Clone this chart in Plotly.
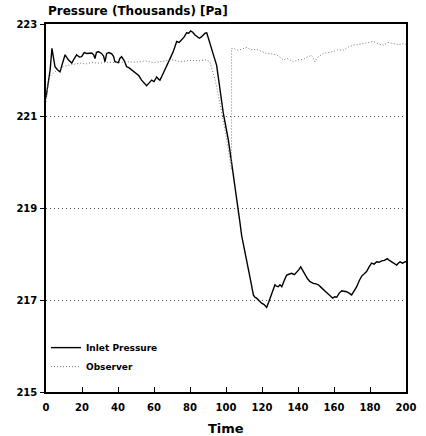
import plotly.graph_objects as go

# Inlet pressure (solid) - time and value (thousands of Pa)
inlet_t = [0, 0.5, 1.3, 2.3, 3.3, 4.2, 5, 6.5, 7.8, 9.2, 10.6, 12.4, 14.3, 15.7, 17, 18.5, 19.8,
           21.2, 22.6, 25.4, 26.5, 27.2, 28, 29, 30.9, 32, 32.8, 33.7, 35, 36.5, 37.5, 38.3, 40.2,
           41, 42, 43.5, 44.8, 46, 47.6, 49, 50.4, 51.5, 53.1, 54.5, 55.9, 57.3, 58.7, 60, 61.5,
           62.5, 63.3, 64.3, 65.2, 66.5, 67.9, 69.3, 70.7, 71.7, 72.6, 74, 75.4, 76.8, 78.1, 79.3,
           80.4, 81.5, 82.8, 84, 85.2, 86.3, 87.4, 88.4, 89.3, 90.5, 92, 93.5, 94.8, 95.7, 97,
           98.5, 100, 101.3, 102.7, 104, 105.5, 106.8, 107.8, 108.7, 109.6, 111, 112.4, 113.8,
           115.2, 116, 117, 118.4, 119.8, 121.2, 122.6, 123.7, 124.8, 126, 127.2, 128, 129, 130,
           131, 132.3, 133.7, 135, 136.5, 138, 139.3, 140.5, 141.5, 142.7, 143.9, 145.3, 146.7,
           148.5, 150, 151.3, 152.7, 154, 155.4, 156.8, 158, 159.3, 160.4, 161.5, 162.9, 164.3,
           165.6, 167, 168.4, 169.8, 171.2, 172.6, 174, 175.4, 176.8, 178.1, 179.5, 180.9, 182.3,
           183.7, 185, 186.5, 188, 189.6, 190.8, 192, 193.4, 194.8, 195.7, 196.7, 198, 199.4, 200]
inlet_v = [221.4, 221.55, 221.7, 222.0, 222.47, 222.2, 222.07, 222.0, 221.96, 222.15, 222.33,
           222.22, 222.15, 222.25, 222.33, 222.28, 222.29, 222.38, 222.36, 222.37, 222.33, 222.25,
           222.38, 222.4, 222.36, 222.3, 222.18, 222.36, 222.38, 222.35, 222.3, 222.18, 222.16,
           222.25, 222.29, 222.2, 222.07, 222.05, 222.0, 221.97, 221.93, 221.88, 221.78, 221.72,
           221.66, 221.72, 221.78, 221.75, 221.85, 221.8, 221.78, 221.86, 221.93, 222.05, 222.15,
           222.28, 222.4, 222.52, 222.62, 222.6, 222.65, 222.72, 222.81, 222.8, 222.85, 222.82,
           222.76, 222.72, 222.69, 222.72, 222.76, 222.8, 222.81, 222.65, 222.45, 222.3, 222.1,
           221.85, 221.45, 221.06, 220.75, 220.48, 220.1, 219.75, 219.4, 219.03, 218.67, 218.4,
           218.23, 217.97, 217.72, 217.4, 217.11, 217.06, 217.04, 216.98, 216.93, 216.9, 216.84,
           216.95, 217.07, 217.2, 217.33, 217.3, 217.29, 217.33, 217.29, 217.42, 217.54, 217.56,
           217.58, 217.55, 217.6, 217.66, 217.72, 217.63, 217.54, 217.46, 217.4, 217.36, 217.35,
           217.33, 217.28, 217.22, 217.18, 217.13, 217.08, 217.04, 217.07, 217.06, 217.15, 217.2,
           217.19, 217.18, 217.15, 217.11, 217.2, 217.29, 217.42, 217.52, 217.57, 217.62, 217.72,
           217.8, 217.78, 217.83, 217.82, 217.85, 217.86, 217.9, 217.86, 217.83, 217.78, 217.76,
           217.8, 217.83, 217.8, 217.83, 217.84]

# Observer (dotted)
obs_t = [0, 0.5, 1.2, 2.2, 3.5, 5, 7, 9.6, 12, 15, 19, 22, 25, 30, 35, 40, 45, 50, 55, 60, 65,
         70, 75, 80, 85, 89, 91, 92.5, 94, 95.3, 96.7, 98.5, 100.4, 102.2, 103.1, 103.1, 104,
         106.8, 109, 111.5, 114, 117, 120, 122.6, 125, 128.2, 130, 131.8, 134, 137.4, 140, 143,
         145, 147.6, 149.4, 151, 154, 157, 159.6, 162, 165.2, 168, 170.7, 173, 176.3, 179, 181.9,
         184.5, 187.4, 190, 193, 196, 198.5, 200]
obs_v = [221.3, 221.5, 221.7, 221.85, 221.92, 221.96, 222.02, 222.07, 222.1, 222.12, 222.15,
         222.13, 222.16, 222.15, 222.17, 222.16, 222.18, 222.17, 222.2, 222.16, 222.19, 222.22,
         222.18, 222.21, 222.2, 222.22, 222.18, 222.0, 221.78, 221.55, 221.28, 220.9, 220.48,
         220.04, 219.83, 222.47, 222.47, 222.43, 222.46, 222.49, 222.44, 222.45, 222.4, 222.36,
         222.35, 222.33, 222.28, 222.22, 222.25, 222.18, 222.22, 222.23, 222.28, 222.32, 222.18,
         222.28, 222.36, 222.38, 222.4, 222.44, 222.43, 222.5, 222.54, 222.55, 222.58, 222.6,
         222.62, 222.57, 222.54, 222.6, 222.58, 222.55, 222.57, 222.56]

x_ticks = [0, 20, 40, 60, 80, 100, 120, 140, 160, 180, 200]
y_ticks = [215, 217, 219, 221, 223]

FONT = "DejaVu Sans"

fig = go.Figure()
fig.add_trace(go.Scatter(x=inlet_t, y=inlet_v, mode="lines", name="Inlet Pressure",
                         line=dict(color="black", width=1.4)))
fig.add_trace(go.Scatter(x=obs_t, y=obs_v, mode="lines", name="Observer",
                         line=dict(color="#777777", width=1, dash="1px,2px")))

fig.update_layout(
    width=426, height=436,
    margin=dict(l=46, r=20, t=24, b=44),
    paper_bgcolor="white", plot_bgcolor="white",
    font=dict(family=FONT, color="black", size=10, weight="bold"),
    showlegend=True,
    legend=dict(x=0.0, y=0.16, xanchor="left", yanchor="top", bgcolor="rgba(0,0,0,0)",
                font=dict(size=9, family=FONT, weight="bold"), itemwidth=30,
                tracegroupgap=4),
    xaxis=dict(range=[0, 200], tickvals=x_ticks, ticktext=[str(v) for v in x_ticks],
               ticks="inside", ticklen=5, tickcolor="black", tickwidth=1,
               showline=True, linecolor="black", linewidth=1.5, mirror=True,
               showgrid=False, zeroline=False, ticklabelstandoff=5, automargin=False,
               tickfont=dict(size=10, family=FONT, weight="bold")),
    yaxis=dict(range=[215, 223], tickvals=y_ticks, ticktext=[str(v) for v in y_ticks],
               ticks="outside", ticklen=4, tickcolor="black", tickwidth=1,
               showline=True, linecolor="black", linewidth=1.5, mirror=True,
               showgrid=True, gridcolor="#555555", griddash="1px,3px", gridwidth=1,
               zeroline=False, ticklabelstandoff=1, automargin=False,
               tickfont=dict(size=10, family=FONT, weight="bold")),
    annotations=[
        dict(text="Pressure (Thousands) [Pa]", xref="paper", yref="paper",
             x=0, y=1, xanchor="left", yanchor="bottom", yshift=4, showarrow=False,
             font=dict(size=12, family=FONT, weight="bold")),
        dict(text="Time", xref="paper", yref="paper",
             x=0.5, y=0, xanchor="center", yanchor="middle", yshift=-36, showarrow=False,
             font=dict(size=13, family=FONT, weight="bold")),
    ],
)

fig.write_html("out.html")
